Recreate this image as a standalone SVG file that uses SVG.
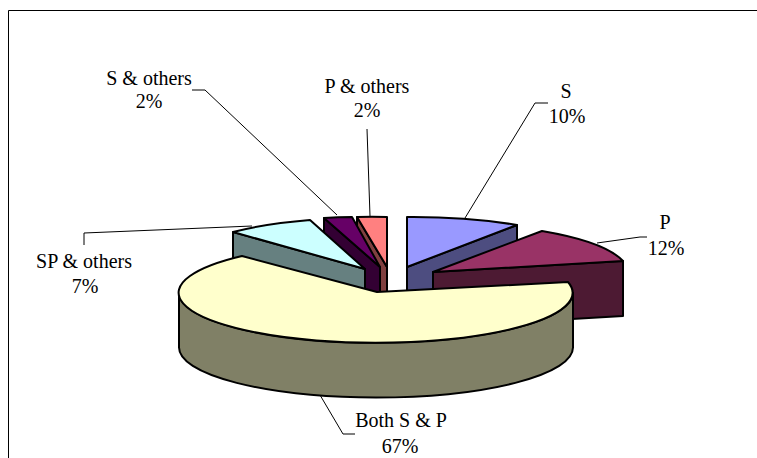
<svg xmlns="http://www.w3.org/2000/svg" width="757" height="458" viewBox="0 0 757 458">
<style>
.edge{stroke:#000;stroke-width:2;stroke-linejoin:round}
.lead{stroke:#000;stroke-width:1;fill:none}
.lbl{font-family:'Times New Roman','Liberation Serif','DejaVu Serif',serif;font-size:20px;fill:#000;text-anchor:middle}
</style>
<rect x="0" y="0" width="757" height="458" fill="#fff"/>
<path d="M8.5,470 L8.5,10.5 L770,10.5" fill="none" stroke="#000" stroke-width="1"/>
<g id="slice-s">
<polygon class="edge" fill="#4D4D80" points="407,267 517,225 517,279 407,321"/>
<path class="edge" fill="#9999FF" d="M407,267 L407,217 A192,50 0 0,1 517,225 Z"/>
</g>
<g id="slice-p-others">
<polygon class="edge" fill="#804040" points="357,217 387,267 387,321 357,271"/>
<path class="edge" fill="#FF8080" d="M387,267 L357,217 A192,50 0 0,1 387,217 Z"/>
</g>
<g id="slice-s-others">
<polygon class="edge" fill="#330033" points="324,218 380,267 380,321 324,272"/>
<path class="edge" fill="#660066" d="M380,267 L324,218 A192,50 0 0,1 352,217 Z"/>
</g>
<g id="slice-p">
<polygon class="edge" fill="#4D1A33" points="433,272 623,261 623,316 433,327"/>
<path class="edge" fill="#993366" d="M433,272 L542,231 A192,50 0 0,1 623,261 Z"/>
</g>
<g id="slice-sp-others">
<polygon class="edge" fill="#668080" points="233,232 365,269 365,323 233,286"/>
<path class="edge" fill="#CCFFFF" d="M365,269 L233,232 A192,50 0 0,1 310,220 Z"/>
</g>
<g id="slice-both">
<path class="edge" fill="#808066" d="M573,292.8 A197,50 0 0,1 179,292.8 L179,347.5 A197,50 0 0,0 573,347.5 Z"/>
<path class="edge" fill="#FFFFCC" d="M377,292 L568,282 A197,50 0 1,1 242,256 Z"/>
</g>
<g id="connectors">
<polyline class="lead" points="548,103 535,103 465,218"/>
<polyline class="lead" points="647,237 640,237 597,243"/>
<polyline class="lead" points="355,434 343,434 320,395"/>
<polyline class="lead" points="84,245 84,233 252,226"/>
<polyline class="lead" points="192,90 205,90 337,215"/>
<polyline class="lead" points="367,129 370,216"/>
</g>
<g id="labels" class="lbl">
<text class="lbl" x="566" y="98">S</text>
<text class="lbl" x="567" y="123">10%</text>
<text class="lbl" x="665" y="229">P</text>
<text class="lbl" x="666" y="255">12%</text>
<text class="lbl" x="401" y="427">Both S &amp; P</text>
<text class="lbl" x="400" y="453">67%</text>
<text class="lbl" x="84" y="268">SP &amp; others</text>
<text class="lbl" x="85" y="293">7%</text>
<text class="lbl" x="149" y="85">S &amp; others</text>
<text class="lbl" x="149" y="108">2%</text>
<text class="lbl" x="367" y="93">P &amp; others</text>
<text class="lbl" x="367" y="117">2%</text>
</g>
</svg>
